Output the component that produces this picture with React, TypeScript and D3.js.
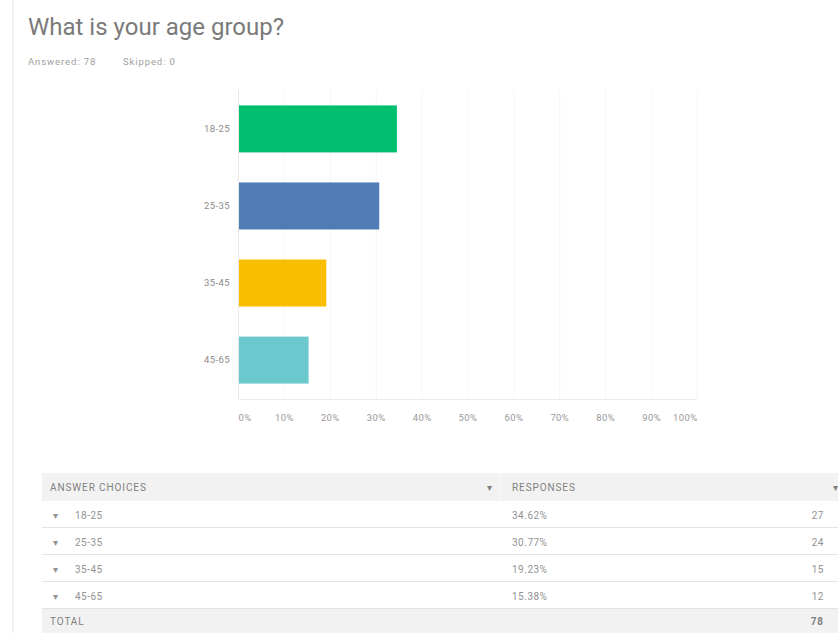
import * as d3 from "d3";
import { useEffect, useRef } from "react";

const categories = ["18-25", "25-35", "35-45", "45-65"];
const percents = [34.62, 30.77, 19.23, 15.38];
const counts = [27, 24, 15, 12];
const barColors = ["#00bf6f", "#507cb6", "#f9be00", "#6bc8cd"];
const xTicks = [0, 10, 20, 30, 40, 50, 60, 70, 80, 90, 100];
const answered = 78;
const skipped = 0;

const W = 838;
const H = 633;
const FONT = "Roboto, 'Open Sans', sans-serif";

const App = () => {
    const chartRef = useRef(null);

    useEffect(() => {
        const svg = d3.select(chartRef.current);
        svg.selectAll("*").remove();

        svg.append("rect").attr("width", W).attr("height", H).style("fill", "#fff");
        // faint left border of the panel
        svg.append("rect").attr("x", 12).attr("y", 0).attr("width", 2).attr("height", H).style("fill", "#f1f1f1");

        svg.append("text")
            .attr("x", 28).attr("y", 35)
            .style("font-family", FONT).style("font-size", "24px")
            .style("fill", "#7a7a7a")
            .text("What is your age group?");

        const sub = (t) => t.style("font-family", FONT).style("font-size", "9.5px")
            .style("letter-spacing", "0.9px").style("fill", "#a0a0a0");
        sub(svg.append("text").attr("x", 28).attr("y", 65).text(`Answered: ${answered}`));
        sub(svg.append("text").attr("x", 123).attr("y", 65).text(`Skipped: ${skipped}`));

        // chart
        const scaleX = d3.scaleLinear().domain([0, 100]).range([238, 697]);
        const scaleY = d3.scaleBand()
            .domain(categories)
            .range([90, 399])
            .paddingInner(0.39)
            .paddingOuter(0.2);

        svg.append("g").selectAll("line")
            .data(xTicks)
            .enter()
            .append("line")
            .attr("x1", d => scaleX(d) + 0.5)
            .attr("x2", d => scaleX(d) + 0.5)
            .attr("y1", 90)
            .attr("y2", 399)
            .style("stroke", d => (d === 0 ? "#e8e8e8" : "#f5f5f5"))
            .style("stroke-width", 1);

        svg.append("line")
            .attr("x1", scaleX(0)).attr("x2", scaleX(100))
            .attr("y1", 399.5).attr("y2", 399.5)
            .style("stroke", "#ebebeb");

        svg.append("g").selectAll("rect")
            .data(categories)
            .enter()
            .append("rect")
            .attr("x", scaleX(0) + 1)
            .attr("y", d => scaleY(d))
            .attr("width", (d, i) => scaleX(percents[i]) - scaleX(0) - 1)
            .attr("height", scaleY.bandwidth())
            .style("fill", (d, i) => barColors[i]);

        const yAxis = d3.axisLeft(scaleY).tickSize(0).tickPadding(8);
        const yg = svg.append("g")
            .attr("transform", `translate(${scaleX(0)}, 0)`)
            .call(yAxis);
        yg.select(".domain").remove();
        yg.selectAll("text")
            .style("font-family", FONT).style("font-size", "9.5px")
            .style("letter-spacing", "0.4px")
            .style("fill", "#8a8a8a");

        const xAxis = d3.axisBottom(scaleX)
            .tickValues(xTicks)
            .tickSize(0)
            .tickPadding(14)
            .tickFormat(d => `${d}%`);
        const xg = svg.append("g")
            .attr("transform", `translate(0, 400)`)
            .call(xAxis);
        xg.select(".domain").remove();
        xg.selectAll("text")
            .style("font-family", FONT).style("font-size", "9.5px")
            .style("letter-spacing", "0.4px")
            .style("fill", "#999")
            .attr("text-anchor", d => (d === 0 ? "start" : d === 100 ? "end" : "middle"));

        // table
        const tableLeft = 42;
        const headerTop = 473;
        const headerH = 28;
        const rowH = 27;
        const colResp = 512;
        const colCount = 824;

        svg.append("rect")
            .attr("x", tableLeft).attr("y", headerTop)
            .attr("width", W - tableLeft).attr("height", headerH)
            .style("fill", "#f2f2f2");
        svg.append("line")
            .attr("x1", 500.5).attr("x2", 500.5)
            .attr("y1", headerTop).attr("y2", headerTop + headerH)
            .style("stroke", "#fafafa");

        const headerY = headerTop + headerH / 2 + 4;
        const headStyle = (t) => t.style("font-family", FONT).style("font-size", "10px")
            .style("letter-spacing", "0.9px").style("fill", "#808080");
        headStyle(svg.append("text").attr("x", 50).attr("y", headerY).text("ANSWER CHOICES"));
        headStyle(svg.append("text").attr("x", colResp).attr("y", headerY).text("RESPONSES"));
        headStyle(svg.append("text").attr("x", 490).attr("y", headerY).attr("text-anchor", "middle").style("fill", "#555").text("▾"));
        headStyle(svg.append("text").attr("x", 836).attr("y", headerY).attr("text-anchor", "middle").style("fill", "#555").text("▾"));

        const rows = svg.append("g").selectAll("g")
            .data(categories)
            .enter()
            .append("g")
            .attr("transform", (d, i) => `translate(0, ${headerTop + headerH + i * rowH})`);

        rows.append("line")
            .attr("x1", tableLeft).attr("x2", W)
            .attr("y1", rowH - 0.5).attr("y2", rowH - 0.5)
            .style("stroke", "#e3e3e3");

        const cell = (sel) => sel.style("font-family", FONT).style("font-size", "10px")
            .style("letter-spacing", "0.5px").style("fill", "#929292");
        cell(rows.append("text").attr("x", 56).attr("y", rowH / 2 + 4).attr("text-anchor", "middle").style("fill", "#555").text("▾"));
        cell(rows.append("text").attr("x", 75).attr("y", rowH / 2 + 4).text(d => d));
        cell(rows.append("text").attr("x", colResp).attr("y", rowH / 2 + 4).text((d, i) => `${percents[i].toFixed(2)}%`));
        cell(rows.append("text").attr("x", colCount).attr("y", rowH / 2 + 4).attr("text-anchor", "end").text((d, i) => counts[i]));

        const totalTop = headerTop + headerH + categories.length * rowH;
        svg.append("rect")
            .attr("x", tableLeft).attr("y", totalTop)
            .attr("width", W - tableLeft).attr("height", H - totalTop)
            .style("fill", "#f2f2f2");
        headStyle(svg.append("text").attr("x", 50).attr("y", totalTop + 16).text("TOTAL"));
        headStyle(svg.append("text").attr("x", colCount).attr("y", totalTop + 16).attr("text-anchor", "end")
            .style("font-weight", "bold").style("fill", "#666").text(d3.sum(counts)));
    }, []);

    return (
        <div style={{ position: "absolute", left: 0, top: 0 }}>
            <svg ref={chartRef} width={W} height={H} style={{ display: "block" }}></svg>
        </div>
    );
};

export default App;
